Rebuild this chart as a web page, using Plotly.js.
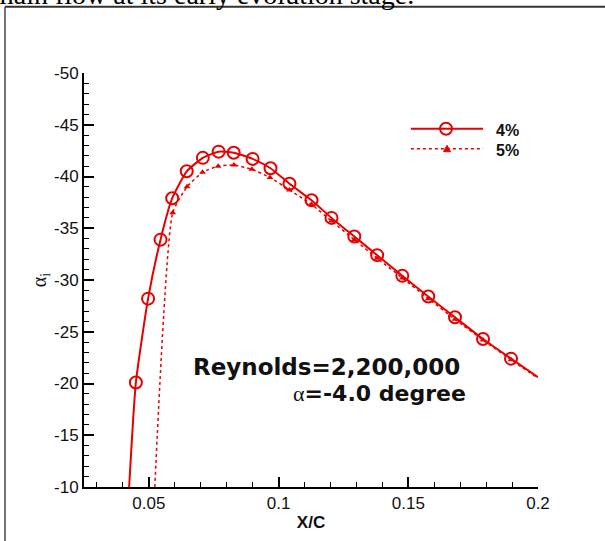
<!DOCTYPE html>
<html>
<head>
<meta charset="utf-8">
<script src="https://cdn.plot.ly/plotly-3.0.1.min.js"></script>
<style>html,body{margin:0;padding:0;background:#fff;}#chart{width:605px;height:541px;}</style>
</head>
<body>
<div id="chart"></div>
<script>
// ---- data ----
const seriesNames = ['4%', '5%'];
// 4% series: curve points (first/last are the curve ends without a marker)
const x4 = [0.0424, 0.0450, 0.0497, 0.0545, 0.0590, 0.0646, 0.0708, 0.0769, 0.0827, 0.0900, 0.0969, 0.1042, 0.1127, 0.1204, 0.1292, 0.1380, 0.1477, 0.1577, 0.1680, 0.1788, 0.1896, 0.2000];
const y4 = [-10.0, -20.1, -28.2, -33.9, -37.9, -40.5, -41.8, -42.4, -42.3, -41.7, -40.8, -39.3, -37.7, -36.0, -34.2, -32.4, -30.4, -28.4, -26.4, -24.3, -22.4, -20.6];
// 5% series
const x5 = [0.0523, 0.0592, 0.0647, 0.0707, 0.0767, 0.0828, 0.0897, 0.0967, 0.1042, 0.1127, 0.1204, 0.1292, 0.1380, 0.1477, 0.1577, 0.1680, 0.1788, 0.1896, 0.2000];
const y5 = [-10.0, -36.5, -39.0, -40.4, -41.0, -41.1, -40.7, -39.9, -38.7, -37.3, -35.7, -33.9, -32.1, -30.2, -28.2, -26.2, -24.2, -22.3, -20.5];

const xTickVals = [0.05, 0.1, 0.15, 0.2];
const xTickText = ['0.05', '0.1', '0.15', '0.2'];
const yTickVals = [-50, -45, -40, -35, -30, -25, -20, -15, -10];
const yTickText = ['-50', '-45', '-40', '-35', '-30', '-25', '-20', '-15', '-10'];

const RED = '#e60000';
const SANS = 'Liberation Sans, Arial, Helvetica, sans-serif';
const SERIF = 'Liberation Serif, Times New Roman, serif';

const traces = [
  {x: x4, y: y4, mode: 'lines', name: seriesNames[0], line: {color: RED, width: 2, shape: 'spline', smoothing: 0.5}, hoverinfo: 'skip'},
  {x: x4.slice(1, -1), y: y4.slice(1, -1), mode: 'markers', name: seriesNames[0],
   marker: {symbol: 'circle-open', size: 12, color: RED, line: {width: 2, color: RED}}},
  {x: x5, y: y5, mode: 'lines', name: seriesNames[1], line: {color: RED, width: 1.5, dash: 'dot', shape: 'spline', smoothing: 0.5}, hoverinfo: 'skip'},
  {x: x5.slice(1, -1), y: y5.slice(1, -1), mode: 'markers', name: seriesNames[1],
   marker: {symbol: 'triangle-up', size: 6, color: RED}}
];

const axisCommon = {
  ticks: 'inside', ticklen: 10, tickwidth: 2, tickcolor: '#000',
  showline: true, linewidth: 2, linecolor: '#000',
  showgrid: false, zeroline: false, tickmode: 'array',
  tickfont: {family: SANS, size: 17, color: '#111'}
};

const layout = {
  width: 605, height: 541,
  margin: {l: 84, r: 67, t: 73, b: 54},
  paper_bgcolor: '#fff', plot_bgcolor: '#fff',
  showlegend: false,
  font: {family: SANS, color: '#111'},
  xaxis: Object.assign({}, axisCommon, {
    range: [0.025, 0.2], tickvals: xTickVals, ticktext: xTickText,
    minor: {tickmode: 'linear', tick0: 0, dtick: 0.01, ticks: 'inside', ticklen: 5, tickwidth: 1, tickcolor: '#000', showgrid: false},
    title: {text: '<b>X/C</b>', font: {family: SANS, size: 17, color: '#111'}, standoff: 4}
  }),
  yaxis: Object.assign({}, axisCommon, {
    range: [-10, -50], tickvals: yTickVals, ticktext: yTickText,
    minor: {tickmode: 'linear', tick0: 0, dtick: 1, ticks: 'inside', ticklen: 5, tickwidth: 1, tickcolor: '#000', showgrid: false},
    title: {text: 'α<sub>i</sub>', font: {family: SERIF, size: 20, color: '#111'}, standoff: 2}
  }),
  shapes: [
    // page frame
    {type: 'line', xref: 'paper', yref: 'paper', x0: -0.174, x1: 1.25, y0: 1.1600, y1: 1.1600, line: {color: '#333', width: 2}},
    {type: 'line', xref: 'paper', yref: 'paper', x0: -0.174, x1: -0.174, y0: 1.1600, y1: -0.25, line: {color: '#444', width: 1.5}},
    // legend samples
    {type: 'line', xref: 'paper', yref: 'paper', x0: 0.720, x1: 0.879, y0: 0.8655, y1: 0.8655, line: {color: RED, width: 2}},
    {type: 'circle', xref: 'paper', yref: 'paper', xsizemode: 'pixel', ysizemode: 'pixel', xanchor: 0.7974, yanchor: 0.8655,
     x0: -6, x1: 6, y0: -6, y1: 6, line: {color: RED, width: 2}},
    {type: 'line', xref: 'paper', yref: 'paper', x0: 0.720, x1: 0.879, y0: 0.817, y1: 0.817, line: {color: RED, width: 1.5, dash: 'dot'}},
    {type: 'path', xref: 'paper', yref: 'paper', xsizemode: 'pixel', ysizemode: 'pixel', xanchor: 0.7996, yanchor: 0.817,
     path: 'M-3.5,-3L3.5,-3L0,3.5Z', fillcolor: RED, line: {color: RED, width: 1}}
  ],
  annotations: [
    {text: 'main flow at its early evolution stage.', xref: 'paper', yref: 'paper', x: -0.207, y: 1.148,
     xanchor: 'left', yanchor: 'bottom', showarrow: false, font: {family: SERIF, size: 28, color: '#000'}},
    {text: '<b>' + seriesNames[0] + '</b>', xref: 'paper', yref: 'paper', x: 0.903, y: 0.861, xanchor: 'left', yanchor: 'middle',
     showarrow: false, font: {family: SANS, size: 16, color: '#111'}},
    {text: '<b>' + seriesNames[1] + '</b>', xref: 'paper', yref: 'paper', x: 0.903, y: 0.813, xanchor: 'left', yanchor: 'middle',
     showarrow: false, font: {family: SANS, size: 16, color: '#111'}},
    {text: '<b>Reynolds=2,200,000</b>', xref: 'paper', yref: 'paper', x: 0.5336, y: 0.291, xanchor: 'center', yanchor: 'middle',
     showarrow: false, font: {family: 'DejaVu Sans, sans-serif', size: 23, color: '#111'}},
    {text: '<span style="font-family:Liberation Serif,serif;font-weight:normal">α</span><b>=-4.0 degree</b>', xref: 'paper', yref: 'paper',
     x: 0.8458, y: 0.2257, xanchor: 'right', yanchor: 'middle',
     showarrow: false, font: {family: 'DejaVu Sans, sans-serif', size: 22, color: '#111'}}
  ]
};

Plotly.newPlot('chart', traces, layout, {displayModeBar: false, staticPlot: true});
</script>
</body>
</html>
